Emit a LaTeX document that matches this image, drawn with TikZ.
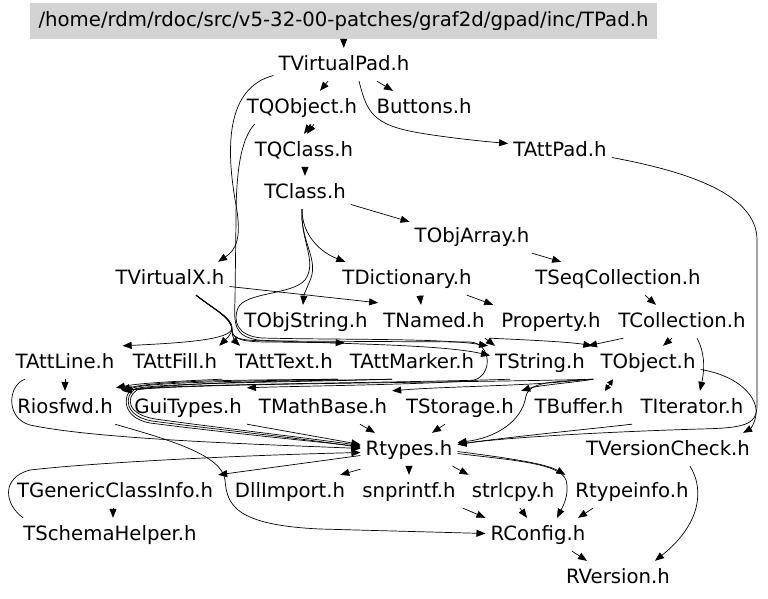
\documentclass[tikz,border=0pt]{standalone}
\usepackage{fontspec}
\setmainfont{DejaVu Sans}
\usetikzlibrary{arrows.meta,calc}
\definecolor{hdrgray}{HTML}{D3D3D3}
\begin{document}
\begin{tikzpicture}[x=1pt,y=-1pt,
  lbl/.style={anchor=base,inner xsep=5pt,inner ysep=7pt,text height=15pt,text depth=4pt,font=\fontsize{19.7}{22}\selectfont},
  hdrbox/.style={fill=hdrgray,minimum width=627pt,minimum height=36pt,inner sep=0pt,text height=15pt,text depth=4pt,font=\fontsize{19.7}{22}\selectfont},
  conn/.style={draw,line width=0.7pt,-{Triangle[length=9pt,width=7pt]}},
  conntwo/.style={draw,line width=0.7pt,{Triangle[length=6pt,width=6pt]}-{Triangle[length=6pt,width=6pt]}}]
\useasboundingbox (0,0) rectangle (768,598);
\fill[white] (0,0) rectangle (768,598);

\node[hdrbox] (hdr) at (343.5,21) {/home/rdm/rdoc/src/v5-32-00-patches/graf2d/gpad/inc/TPad.h};
\node[lbl] (tvp) at (344,70) {TVirtualPad.h};
\node[lbl] (tqo) at (302,113) {TQObject.h};
\node[lbl] (btn) at (424,113) {Buttons.h};
\node[lbl] (tqc) at (304,156) {TQClass.h};
\node[lbl] (tap) at (560,156) {TAttPad.h};
\node[lbl] (tcl) at (305,198) {TClass.h};
\node[lbl] (toa) at (472,242) {TObjArray.h};
\node[lbl] (tvx) at (170,284) {TVirtualX.h};
\node[lbl] (tdi) at (407,284) {TDictionary.h};
\node[lbl] (tsc) at (618,284) {TSeqCollection.h};
\node[lbl] (tos) at (306,327) {TObjString.h};
\node[lbl] (tna) at (434,327) {TNamed.h};
\node[lbl] (pro) at (551,327) {Property.h};
\node[lbl] (tco) at (682,327) {TCollection.h};
\node[lbl] (tal) at (65,368) {TAttLine.h};
\node[lbl] (taf) at (175,368) {TAttFill.h};
\node[lbl] (tat) at (284,368) {TAttText.h};
\node[lbl] (tam) at (412,368) {TAttMarker.h};
\node[lbl] (tst) at (540,368) {TString.h};
\node[lbl] (tob) at (648,368) {TObject.h};
\node[lbl] (rio) at (65,413) {Riosfwd.h};
\node[lbl] (gui) at (188,413) {GuiTypes.h};
\node[lbl] (tmb) at (323,413) {TMathBase.h};
\node[lbl] (tsg) at (460,413) {TStorage.h};
\node[lbl] (tbu) at (579,413) {TBuffer.h};
\node[lbl] (tit) at (692,413) {TIterator.h};
\node[lbl] (rty) at (409,455) {Rtypes.h};
\node[lbl] (tvc) at (668,455) {TVersionCheck.h};
\node[lbl] (tgc) at (115,497) {TGenericClassInfo.h};
\node[lbl] (dll) at (290,497) {DllImport.h};
\node[lbl] (snp) at (409,497) {snprintf.h};
\node[lbl] (stl) at (513,497) {strlcpy.h};
\node[lbl] (rti) at (632,497) {Rtypeinfo.h};
\node[lbl] (tsh) at (110,540) {TSchemaHelper.h};
\node[lbl] (rco) at (538,540) {RConfig.h};
\node[lbl] (rve) at (618,583) {RVersion.h};

% top part
\draw[conn] (hdr) -- (tvp);
\draw[conn] ([xshift=-16pt]tvp.south) -- ([xshift=18pt]tqo.north);
\draw[conn] ([xshift=33pt]tvp.south) -- ([xshift=-31pt]btn.north);
\draw[conn] ([xshift=15pt]tvp.south) .. controls (367,112) and (372,125) .. (420,133) .. controls (450,138) and (480,141) .. ([yshift=7pt]tap.west);
\draw[conn] ([yshift=-11pt]tvp.west) .. controls (225,88) and (226,150) .. (236,205) .. controls (242,238) and (236,250) .. ([xshift=48pt]tvx.north);
\draw[conn] ([xshift=9pt]tqo.south) -- (tqc.north);
\draw[conn] ([xshift=12pt]tqo.south) -- ([xshift=3pt]tqc.north);
\draw[conn] ([xshift=13pt]tqo.south west) .. controls (240,140) and (236,175) .. (236,220) -- (235,300) .. controls (234,325) and (234,336) .. (258,340) .. controls (330,344) and (440,344) .. ([yshift=7pt]tst.west);
\draw[conn] ([xshift=1pt]tqc.south) -- (tcl.north);
\draw[conn] ([yshift=-12pt]tcl.east) -- ([yshift=-2pt]toa.north west);
\draw[conn] ([xshift=-3pt]tcl.south) .. controls (302,235) and (320,252) .. ([xshift=8pt]tdi.north west);
\draw[conn] ([xshift=-3pt]tcl.south) .. controls (300,240) and (318,258) .. (311,278) .. controls (307,288) and (304,294) .. ([xshift=-3pt]tos.north);
\draw[conn] ([xshift=-3pt]tcl.south) .. controls (300,240) and (318,262) .. (305,280) .. controls (292,295) and (245,292) .. (238,308) .. controls (233,320) and (236,336) .. (262,338) .. controls (340,340) and (440,338) .. ([xshift=-2pt]tst.north west);
\draw[conn] ([xshift=60pt]toa.south) -- ([xshift=31pt]tsc.north west);
\draw[conn] ([xshift=27pt]tsc.south) -- ([xshift=-26pt]tco.north);

% TVirtualX
\draw[conn] ([yshift=-8pt]tvx.east) -- ([yshift=2pt]tna.north west);
\draw[conn] ([xshift=26pt]tvx.south) .. controls (215,310) and (232,318) .. (232,328) .. controls (232,340) and (180,343) .. ([xshift=3pt]tal.north east);
\draw[conn] ([xshift=26pt]tvx.south) .. controls (215,310) and (232,318) .. (232,328) .. controls (232,335) and (225,340) .. ([xshift=-3pt]taf.north east);
\draw[conn] ([xshift=26pt]tvx.south) .. controls (215,310) and (232,318) .. (232,330) .. controls (232,338) and (236,342) .. ([xshift=-44pt]tat.north);
\draw[conn] ([xshift=26pt]tvx.south) .. controls (215,310) and (232,318) .. (232,330) .. controls (232,340) and (245,342) .. (270,342) -- ([yshift=3pt]tam.north west);
\draw[conn] ([xshift=26pt]tvx.south) .. controls (215,310) and (232,318) .. (232,330) .. controls (232,340) and (245,341) .. (280,341) -- (470,342) .. controls (492,343) and (494,378) .. (470,381) .. controls (400,385) and (300,386) .. ([yshift=3pt]gui.north east);

% TDictionary, TNamed, TCollection
\draw[conn] ([xshift=13pt]tdi.south) -- ([xshift=-13pt]tna.north);
\draw[conn] ([xshift=60pt]tdi.south) -- ([xshift=-3pt]pro.north west);
\draw[conn] ([xshift=-5pt]tna.south east) -- ([xshift=5pt]tst.north west);
\draw[conn] (tna.south east) .. controls (530,340) and (570,342) .. ([xshift=-3pt]tob.north west);
\draw[conn] ([xshift=10pt]tco.south west) -- ([xshift=-2pt]tst.north east);
\draw[conn] ([xshift=-10pt]tco.south) -- ([xshift=15pt]tob.north);
\draw[conn] ([xshift=15pt]tco.south) .. controls (706,355) and (704,372) .. ([xshift=8pt]tit.north);

% TObject
\draw[conn] ([yshift=-7pt]tob.east) .. controls (740,376) and (758,398) .. (756,414) .. controls (755,424) and (750,429) .. ([xshift=-12pt]tvc.north east);
\draw[conntwo] ([xshift=-35pt]tob.south) -- ([xshift=26pt]tbu.north);
\draw[conn] ([xshift=-2pt]tob.south west) .. controls (570,383) and (540,385) .. ([xshift=2pt]tsg.north east);
\draw[conn] ([xshift=-2pt]tob.south west) .. controls (560,382) and (530,380) .. (526,396) .. controls (522,422) and (495,438) .. ([yshift=7pt]rty.east);
\draw[conn] ([xshift=-2pt]tob.south west) .. controls (450,383) and (200,383) .. ([xshift=5pt]rio.north east);
\draw[conn] ([xshift=-5pt]tst.south east) .. controls (540,386) and (450,386) .. (tmb.north east);

% row of TAtt* to Riosfwd and Rtypes
\draw[conn] (tal.south) -- (rio.north);
\draw[conn] ([xshift=-40pt]tal.south) .. controls (8,385) and (5,418) .. (30,425) .. controls (100,440) and (280,445) .. ([yshift=1pt]rty.west);
\draw[conn] (taf.south east) .. controls (180,381) and (140,383) .. ([xshift=-2pt,yshift=3pt]rio.north east);
\draw[conn] (tat.south east) .. controls (250,380) and (160,380) .. ([xshift=3pt,yshift=1pt]rio.north east);
\draw[conn] ([xshift=-20pt]tam.south) .. controls (300,381) and (200,381) .. ([xshift=4pt]rio.north east);
\draw[conn] (tat.south east) .. controls (250,381) and (150,382) .. (133,388) .. controls (122,395) and (122,418) .. (150,423) .. controls (220,432) and (300,440) .. ([yshift=3pt]rty.west);
\draw[conn] ([xshift=-20pt]tam.south) .. controls (300,382) and (150,383) .. (135,389) .. controls (124,396) and (124,416) .. (152,421) .. controls (220,430) and (300,438) .. ([yshift=2pt]rty.west);
\draw[conn] ([xshift=-30pt]tst.south) .. controls (400,383) and (150,384) .. (137,390) .. controls (126,397) and (126,414) .. (155,419) .. controls (220,428) and (300,437) .. ([yshift=4pt]rty.west);

% into Rtypes
\draw[conn] (gui.south east) -- ([yshift=5pt]rty.west);
\draw[conn] ([xshift=37pt]tmb.south) -- ([xshift=-34pt]rty.north);
\draw[conn] ([xshift=-15pt]tsg.south) -- ([xshift=23pt]rty.north);
\draw[conn] ([xshift=-60pt]tit.south) .. controls (580,430) and (500,438) .. ([yshift=5pt]rty.east);
\draw[conn] ([yshift=-7pt]tap.east) .. controls (690,172) and (757,195) .. (757,240) -- (757,405) .. controls (757,425) and (745,428) .. (700,429) .. controls (600,432) and (500,438) .. ([yshift=5pt]rty.east);
\draw[conn] ([xshift=5pt]tsh.north west) .. controls (5,505) and (0,478) .. (30,470) .. controls (100,462) and (250,455) .. ([yshift=-3pt]rty.west);

% out of Rtypes
\draw[conn] ([yshift=-6pt]rty.west) -- (tgc.north east);
\draw[conn] ([yshift=-3pt]rty.south west) -- ([xshift=-10pt]dll.north east);
\draw[conn] (rty.south) -- (snp.north);
\draw[conn] ([xshift=-5pt]rty.south east) -- ([xshift=2pt]stl.north west);
\draw[conn] ([yshift=-2pt]rty.east) .. controls (500,457) and (545,463) .. ([xshift=-5pt]rti.north west);
\draw[conn] ([yshift=-4pt]rty.east) .. controls (510,460) and (560,463) .. (566,480) .. controls (570,495) and (562,508) .. ([xshift=19pt]rco.north);

% bottom
\draw[conn] ([xshift=54pt]snp.south) -- (rco.north west);
\draw[conn] ([xshift=7pt]stl.south) -- ([xshift=-11pt]rco.north);
\draw[conn] ([xshift=-39pt]rti.south) -- ([xshift=40pt]rco.north);
\draw[conn] ([xshift=-3pt]rio.south east) .. controls (170,440) and (222,455) .. (225,480) .. controls (227,505) and (235,525) .. (320,529) -- ([yshift=1pt]rco.west);
\draw[conn] ([xshift=34pt]rco.south) -- ([xshift=-31pt]rve.north);
\draw[conn] ([xshift=22pt]tvc.south) .. controls (705,490) and (700,525) .. ([xshift=37pt]rve.north);
\draw[conn] ([xshift=-2pt]tgc.south) -- ([xshift=3pt]tsh.north);
\end{tikzpicture}
\end{document}
